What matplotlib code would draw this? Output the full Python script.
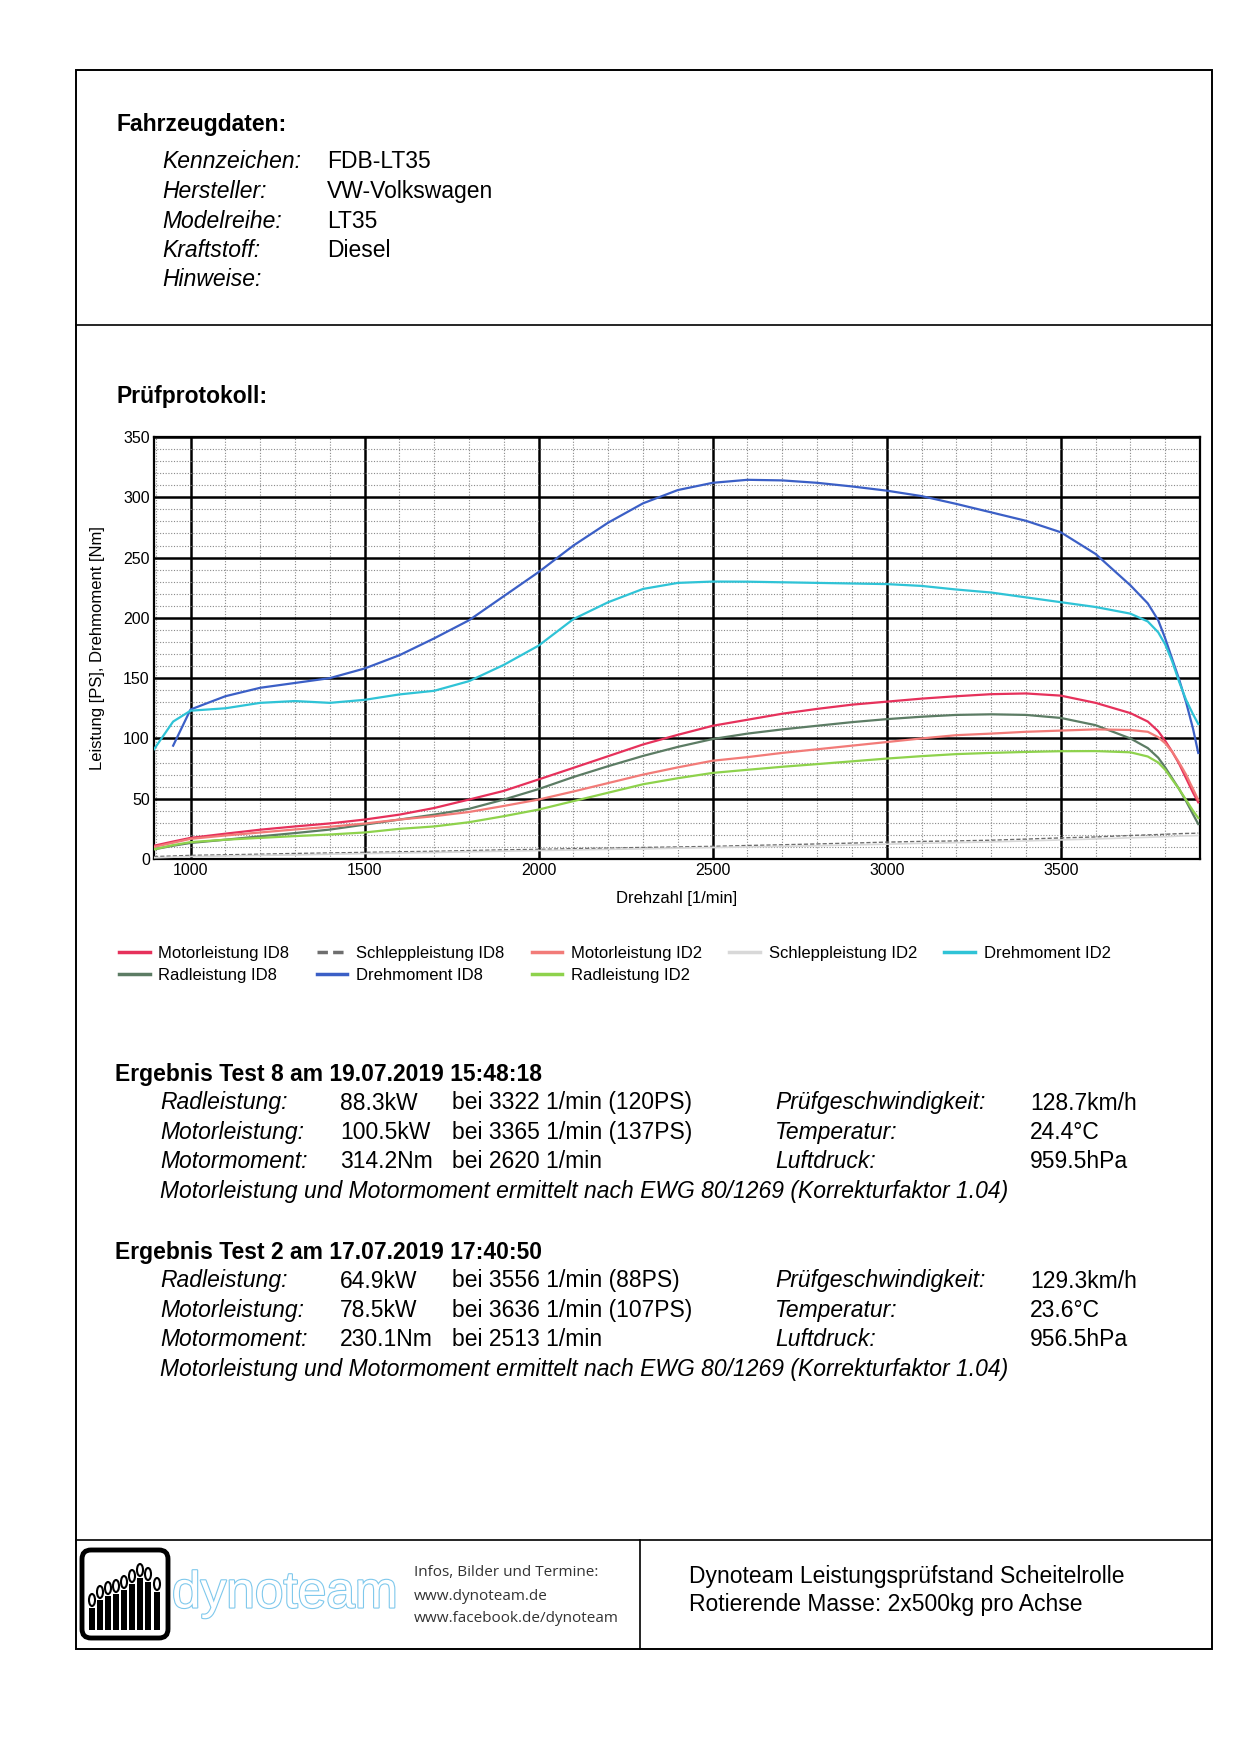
import matplotlib
matplotlib.use("Agg")
import matplotlib.pyplot as plt
import matplotlib.patheffects as pe
from matplotlib.patches import Rectangle, FancyBboxPatch, Ellipse
from matplotlib.ticker import MultipleLocator
import numpy as np

plt.rcParams['font.family'] = ['Liberation Sans', 'DejaVu Sans']

drehzahl = [895, 950, 1000, 1100, 1200, 1300, 1400, 1500, 1600, 1700, 1800, 1900,
            2000, 2100, 2200, 2300, 2400, 2500, 2600, 2700, 2800, 2900, 3000, 3100,
            3200, 3300, 3400, 3500, 3600, 3700, 3750, 3780, 3800, 3820, 3840, 3860,
            3880, 3895]

motorleistung_id8 = [11, 14.5, 17.5, 21, 24.3, 27, 29.5, 32.7, 36.8, 42.3, 49.3, 56.5,
                     66, 75.6, 85.3, 95, 103, 110.5, 115.5, 120.5, 124.5, 128, 130.5, 133,
                     135, 136.7, 137.3, 135.5, 129.5, 121, 114, 106, 98, 89, 79, 67,
                     55, 47]
radleistung_id8 = [8, 11, 13.3, 16, 18.8, 21.5, 24.4, 28.5, 32.7, 36.8, 41.6, 49.3,
                   58, 68, 77, 85.5, 93, 99.5, 104, 107.5, 110.5, 113.5, 116, 118,
                   119.5, 120, 119.5, 117, 111, 100, 92, 84, 76, 67, 58, 48,
                   37, 29]
schleppleistung_id8 = [2, 2.5, 3, 3.5, 4, 4.6, 5, 5.5, 6, 6.4, 7, 7.6,
                       8, 8.6, 9, 9.6, 10, 10.5, 11.2, 11.8, 12.5, 13.2, 14, 14.6,
                       15, 15.6, 16.5, 17.5, 18.3, 19.5, 20, 20.3, 20.5, 20.8, 21, 21.2,
                       21.3, 21.5]
drehmoment_id8 = [np.nan, 94, 124, 135, 142, 146, 150, 158, 169, 183, 198, 218,
                  238, 260, 279, 295, 306, 312, 314.5, 314, 312, 309, 305.5, 301,
                  294.5, 287.5, 280.5, 271, 253, 227, 212, 198, 183, 166, 149, 130,
                  108, 88]
motorleistung_id2 = [10, 13.5, 16.7, 19.5, 22, 24.5, 26.7, 29.4, 32.7, 35.5, 39, 44,
                     49.3, 56, 63, 70, 76, 81.5, 84.5, 88, 91, 94, 97, 100,
                     102.7, 104, 105.5, 106.5, 107.5, 107, 105.5, 101, 96, 89, 80, 70,
                     58, 49]
radleistung_id2 = [8, 11.5, 14, 16, 17.5, 19, 20.3, 22, 25, 27, 30.5, 35.5,
                   41, 48, 55, 62, 67, 71.4, 74, 76.5, 78.7, 81, 83.3, 85.3,
                   87, 88, 88.8, 89.4, 89.5, 88.5, 85, 80, 74, 66, 58, 49,
                   40, 34]
schleppleistung_id2 = [1, 1.5, 2, 2.5, 3, 3.4, 4, 4.5, 5, 5.4, 6, 6.5,
                       7, 7.5, 8, 8.4, 9, 9.5, 10, 10.5, 11, 11.6, 12.3, 13,
                       13.6, 14.2, 15, 15.8, 16.6, 17.6, 18, 18.3, 18.5, 18.7, 19, 19.2,
                       19.3, 19.5]
drehmoment_id2 = [91, 114, 123, 125, 129.5, 131, 129.5, 132, 136.5, 139.5, 147.5, 161,
                  177, 199, 213, 224, 229, 230.1, 230, 229.5, 229, 228.5, 228, 226.5,
                  223.5, 221, 217, 213, 209, 203.5, 197, 188, 178, 164, 147, 132,
                  120, 112]

serien = [
    ("Motorleistung ID8", motorleistung_id8, "#e6315b", "-", 1.6),
    ("Radleistung ID8", radleistung_id8, "#5c7c64", "-", 1.6),
    ("Schleppleistung ID8", schleppleistung_id8, "#6e6e6e", (0, (3, 1.5)), 1.0),
    ("Drehmoment ID8", drehmoment_id8, "#3b5fc6", "-", 1.6),
    ("Motorleistung ID2", motorleistung_id2, "#f27b78", "-", 1.6),
    ("Radleistung ID2", radleistung_id2, "#8ed24c", "-", 1.6),
    ("Schleppleistung ID2", schleppleistung_id2, "#d8d8d8", "-", 1.2),
    ("Drehmoment ID2", drehmoment_id2, "#2fc3d6", "-", 1.6),
]

# Fahrzeugdaten
fz_labels = ["Kennzeichen:", "Hersteller:", "Modelreihe:", "Kraftstoff:", "Hinweise:"]
fz_werte = ["FDB-LT35", "VW-Volkswagen", "LT35", "Diesel", ""]

# Ergebnisse
erg_titel = ["Ergebnis Test 8 am 19.07.2019 15:48:18", "Ergebnis Test 2 am 17.07.2019 17:40:50"]
erg_labels = ["Radleistung:", "Motorleistung:", "Motormoment:"]
erg_werte = [["88.3kW", "100.5kW", "314.2Nm"], ["64.9kW", "78.5kW", "230.1Nm"]]
erg_bei = [["bei 3322 1/min (120PS)", "bei 3365 1/min (137PS)", "bei 2620 1/min"],
           ["bei 3556 1/min (88PS)", "bei 3636 1/min (107PS)", "bei 2513 1/min"]]
rechts_labels = ["Prüfgeschwindigkeit:", "Temperatur:", "Luftdruck:"]
rechts_werte = [["128.7km/h", "24.4°C", "959.5hPa"], ["129.3km/h", "23.6°C", "956.5hPa"]]
fussnote = "Motorleistung und Motormoment ermittelt nach EWG 80/1269 (Korrekturfaktor 1.04)"

W, H = 1240, 1754
FS = 16.5
fig = plt.figure(figsize=(12.4, 17.54), dpi=100)
fig.patch.set_facecolor("white")

# Hintergrund-Achse in Pixelkoordinaten
bg = fig.add_axes([0, 0, 1, 1])
bg.set_xlim(0, W)
bg.set_ylim(H, 0)
bg.axis("off")

bg.add_patch(Rectangle((76, 70), 1136, 1579, fill=False, lw=1.4, ec="black"))
bg.plot([76, 1212], [325, 325], color="black", lw=1.2)
bg.plot([76, 1212], [1540, 1540], color="black", lw=1.2)
bg.plot([640, 640], [1540, 1649], color="black", lw=1.2)

# Fahrzeugdaten
bg.text(117, 125, "Fahrzeugdaten:", fontsize=FS, fontweight="bold", va="center")
for i, (l, v) in enumerate(zip(fz_labels, fz_werte)):
    y = 162 + i * 29.5
    bg.text(162, y, l, fontsize=FS, style="italic", va="center")
    bg.text(327, y, v, fontsize=FS, va="center")

bg.text(117, 396, "Prüfprotokoll:", fontsize=FS, fontweight="bold", va="center")

# Ergebnisse
for k, y0 in enumerate([1074, 1252]):
    bg.text(115, y0, erg_titel[k], fontsize=FS, fontweight="bold", va="center")
    for i in range(3):
        y = y0 + 29 + i * 29.5
        bg.text(160, y, erg_labels[i], fontsize=FS, style="italic", va="center")
        bg.text(340, y, erg_werte[k][i], fontsize=FS, va="center")
        bg.text(452, y, erg_bei[k][i], fontsize=FS, va="center")
        bg.text(775, y, rechts_labels[i], fontsize=FS, style="italic", va="center")
        bg.text(1030, y, rechts_werte[k][i], fontsize=FS, va="center")
    bg.text(160, y0 + 29 + 3 * 29.5, fussnote, fontsize=FS, style="italic", va="center")

# Fusszeile: Logo
bg.add_patch(FancyBboxPatch((82, 1550), 86, 88, boxstyle="round,pad=0,rounding_size=9",
                            fill=False, lw=3.5, ec="black"))
bar_x = [92, 100, 108, 116, 124, 132, 140, 148, 157]
bar_top = [1608, 1600, 1596, 1594, 1590, 1584, 1578, 1582, 1592]
for bx, bt in zip(bar_x, bar_top):
    bg.add_patch(Rectangle((bx - 3, bt), 6, 1630 - bt, color="black", lw=0))
    bg.add_patch(Ellipse((bx, bt - 8), 6, 12, fc="white", ec="black", lw=1.5))
bg.text(172, 1594, "dynoteam", fontsize=37, color="white", va="center",
        path_effects=[pe.withStroke(linewidth=1.6, foreground="#7ec8ec")])
for i, t in enumerate(["Infos, Bilder und Termine:", "www.dynoteam.de", "www.facebook.de/dynoteam"]):
    bg.text(414, 1573 + i * 23, t, fontsize=11, color="#333333", va="center",
            family=["Open Sans", "DejaVu Sans"])
bg.text(689, 1576, "Dynoteam Leistungsprüfstand Scheitelrolle", fontsize=FS, va="center")
bg.text(689, 1605, "Rotierende Masse: 2x500kg pro Achse", fontsize=FS, va="center")

# --- Diagramm ---
ax = fig.add_axes([154 / W, 1 - 859 / H, (1200 - 154) / W, (859 - 437) / H])
for name, werte, farbe, ls, lw in serien:
    ax.plot(drehzahl, werte, color=farbe, lw=lw, ls=ls, label=name, zorder=3)

ax.set_xlim(895, 3900)
ax.set_ylim(0, 350)
ax.xaxis.set_major_locator(MultipleLocator(500))
ax.xaxis.set_minor_locator(MultipleLocator(100))
ax.yaxis.set_major_locator(MultipleLocator(50))
ax.yaxis.set_minor_locator(MultipleLocator(10))
ax.grid(which="minor", color="#8a8a8a", lw=0.8, ls=(0, (1, 1.5)), zorder=1)
ax.grid(which="major", color="black", lw=1.8, zorder=2)
ax.set_axisbelow(True)
ax.tick_params(which="both", length=0, labelsize=11.5, pad=3)
for s in ax.spines.values():
    s.set_linewidth(1.6)
ax.set_xlabel("Drehzahl [1/min]", fontsize=12, labelpad=9)
ax.set_ylabel("Leistung [PS], Drehmoment [Nm]", fontsize=12, labelpad=13)

handles, labels = ax.get_legend_handles_labels()
leg = fig.legend(handles, labels, ncol=5, loc="upper left",
                 bbox_to_anchor=(119 / W, 1 - 946 / H), frameon=False, fontsize=12,
                 handlelength=1.85, handletextpad=0.5, columnspacing=1.65,
                 labelspacing=0.4, borderpad=0, borderaxespad=0)
for line in leg.get_lines():
    line.set_linewidth(2.5)

fig.savefig("out.png", dpi=100, facecolor="white")
